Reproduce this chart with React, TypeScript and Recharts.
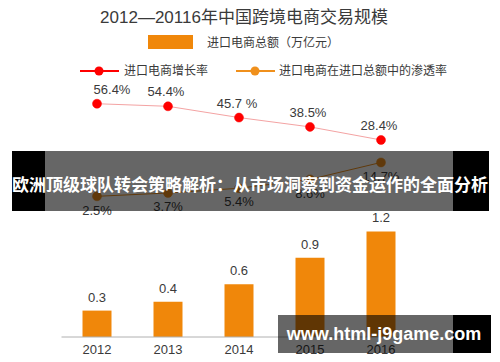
import React from 'react';
import {
  ComposedChart,
  Bar,
  Line,
  XAxis,
  YAxis,
  LabelList
} from 'recharts';

const years = ['2012', '2013', '2014', '2015', '2016'];
const importTotals = [0.3, 0.4, 0.6, 0.9, 1.2];
const growthRates = [56.4, 54.4, 45.7, 38.5, 28.4];
const growthLabels = ['56.4%', '54.4%', '45.7 %', '38.5%', '28.4%'];
const penetrationRates = [2.5, 3.7, 5.4, 8.6, 14.7];
const penetrationLabels = ['2.5%', '3.7%', '5.4%', '8.6%', '14.7%'];

const data = years.map((year, i) => ({
  year,
  total: importTotals[i],
  growth: growthRates[i],
  growthLabel: growthLabels[i],
  pen: penetrationRates[i],
  penLabel: penetrationLabels[i]
}));

const ORANGE = '#f0870a';
const RED = '#ff0000';
const LINE_ORANGE = '#f0901c';
const TEXT = '#3a3a3a';
const CJK = '"Liberation Sans", "Noto Sans CJK SC", sans-serif';

const abs = (left: number, top: number, width: number, height: number, extra: React.CSSProperties = {}): React.CSSProperties => ({
  position: 'absolute',
  left,
  top,
  width,
  height,
  ...extra
});

// growth labels sit above the dots; the first one is nudged right like in the source
const GrowthLabel = (props: any) => {
  const { x, y, value, index } = props;
  const dx = index === 0 ? 15 : -2;
  return (
    <text x={x + dx} y={y - 10} textAnchor="middle" fill={TEXT} fontSize={13} fontFamily={CJK}>
      {value}
    </text>
  );
};

export default function App() {
  return (
    <div style={{ position: 'absolute', left: 0, top: 0, width: 500, height: 362, background: '#fff', overflow: 'hidden', fontFamily: CJK }}>
      <ComposedChart
        width={500}
        height={362}
        data={data}
        margin={{ top: 0, right: 83.5, bottom: 0, left: 61.5 }}
      >
        <XAxis
          dataKey="year"
          height={25}
          tickLine={false}
          axisLine={{ stroke: '#b0b0b0' }}
          tick={{ fill: TEXT, fontSize: 13, fontFamily: CJK }}
        />
        <YAxis yAxisId="bar" hide domain={[0, 3.83]} />
        <YAxis yAxisId="growth" hide domain={[-123.75, 136.5]} />
        <YAxis yAxisId="pen" hide domain={[-48.2, 73.24]} />
        <Bar yAxisId="bar" dataKey="total" fill={ORANGE} barSize={29} isAnimationActive={false}>
          <LabelList dataKey="total" position="top" offset={9} fill={TEXT} fontSize={13} fontFamily={CJK} />
        </Bar>
        <Line
          yAxisId="growth"
          dataKey="growth"
          stroke="#f4a3a3"
          strokeWidth={1}
          dot={{ r: 4.5, fill: RED, stroke: RED, strokeWidth: 0.5 }}
          isAnimationActive={false}
        >
          <LabelList dataKey="growthLabel" content={GrowthLabel} />
        </Line>
        <Line
          yAxisId="pen"
          dataKey="pen"
          stroke={LINE_ORANGE}
          strokeWidth={1}
          dot={{ r: 4.5, fill: LINE_ORANGE, stroke: LINE_ORANGE, strokeWidth: 0.5 }}
          isAnimationActive={false}
        >
          <LabelList dataKey="penLabel" position="bottom" offset={9} fill={TEXT} fontSize={13} fontFamily={CJK} />
        </Line>
      </ComposedChart>

      {/* title and legend */}
      <div style={abs(0, 6, 488, 24, { textAlign: 'center', fontSize: 17, lineHeight: '24px', color: TEXT })}>
        2012—20116年中国跨境电商交易规模
      </div>
      <div style={abs(148, 35, 45, 14, { background: ORANGE })} />
      <div style={abs(207, 35, 160, 16, { fontSize: 12, lineHeight: '16px', color: TEXT })}>进口电商总额（万亿元）</div>
      <svg style={abs(78, 63, 200, 16)} width={200} height={16}>
        <line x1={2} y1={8} x2={41} y2={8} stroke={RED} strokeWidth={2} />
        <circle cx={21} cy={8} r={4.5} fill={RED} />
        <line x1={158} y1={8} x2={197} y2={8} stroke={LINE_ORANGE} strokeWidth={2} />
        <circle cx={177} cy={8} r={4.5} fill={LINE_ORANGE} />
      </svg>
      <div style={abs(124, 63, 100, 16, { fontSize: 12, lineHeight: '16px', color: TEXT })}>进口电商增长率</div>
      <div style={abs(279, 63, 190, 16, { fontSize: 12, lineHeight: '16px', color: TEXT })}>进口电商在进口总额中的渗透率</div>

      {/* banner overlay */}
      <div style={abs(12, 151, 33, 60, { background: '#000' })} />
      <div style={abs(45, 151, 408, 60, { background: 'rgba(0,0,0,0.6)' })} />
      <div style={abs(453, 151, 36, 60, { background: '#000' })} />
      <div style={abs(0, 153, 500, 60, { display: 'flex', alignItems: 'center', justifyContent: 'center', color: '#fff', fontWeight: 'bold', fontSize: 17, fontFamily: '"Noto Sans CJK SC", sans-serif', whiteSpace: 'nowrap' })}>
        欧洲顶级球队转会策略解析：从市场洞察到资金运作的全面分析
      </div>

      {/* watermark */}
      <div style={abs(278, 315, 175, 38, { background: 'rgba(0,0,0,0.6)' })} />
      <div style={abs(453, 315, 38, 38, { background: '#000' })} />
      <div style={abs(278, 315, 212, 38, { display: 'flex', alignItems: 'center', justifyContent: 'center', color: '#fff', fontWeight: 'bold', fontSize: 18, fontFamily: '"Liberation Sans", Arial, sans-serif', whiteSpace: 'nowrap' })}>
        www.html-j9game.com
      </div>
    </div>
  );
}
